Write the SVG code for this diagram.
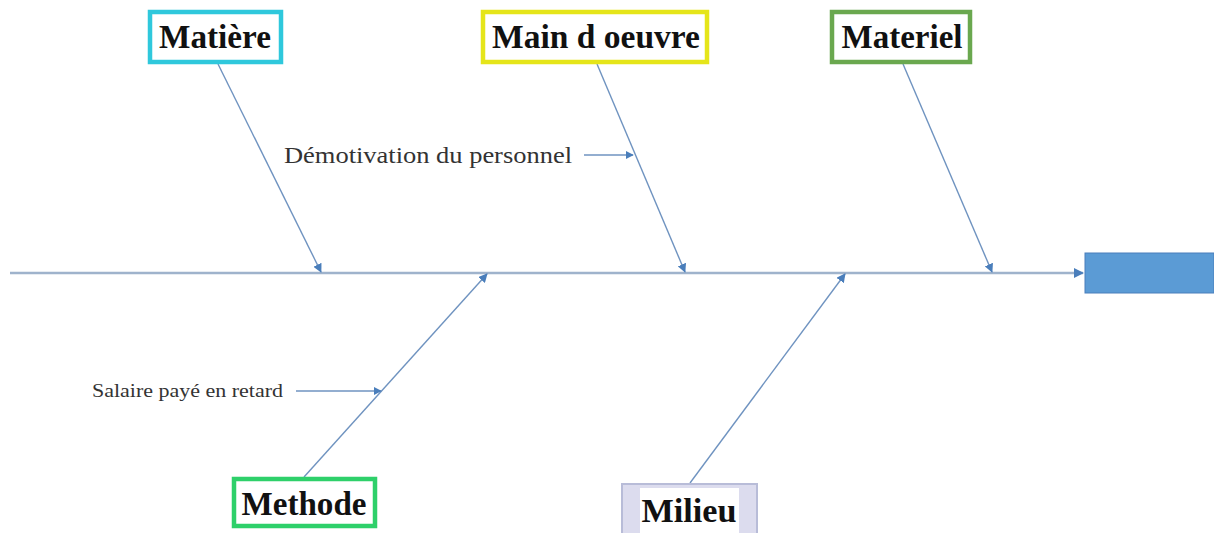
<svg xmlns="http://www.w3.org/2000/svg" width="1214" height="533" viewBox="0 0 1214 533">
<style>
.lbl{font-family:"Liberation Serif","Times New Roman",serif;font-weight:bold;font-size:33px;fill:#111;text-anchor:middle}
.note{font-family:"Liberation Serif","Times New Roman",serif;fill:#333}
.bone{stroke:#6f93c0;stroke-width:1.4;fill:none;marker-end:url(#ah)}
.small{stroke:#6f93c0;stroke-width:1.3;fill:none;marker-end:url(#ahs)}
.box{fill:#fff;stroke-width:4.5}
</style>
<defs>
<marker id="ah" viewBox="0 0 10 10" refX="9" refY="5" markerWidth="9" markerHeight="9" markerUnits="userSpaceOnUse" orient="auto"><path d="M0,0 L10,5 L0,10 z" fill="#4a7ebb"/></marker>
<marker id="ahs" viewBox="0 0 10 10" refX="9" refY="5" markerWidth="8" markerHeight="8" markerUnits="userSpaceOnUse" orient="auto"><path d="M0,0 L10,5 L0,10 z" fill="#4a7ebb"/></marker>
<marker id="ahm" viewBox="0 0 10 10" refX="9" refY="5" markerWidth="10" markerHeight="10" markerUnits="userSpaceOnUse" orient="auto"><path d="M0,0 L10,5 L0,10 z" fill="#4a7ebb"/></marker>
</defs>
<rect width="1214" height="533" fill="#fff"/>
<g id="connectors">
<line x1="10" y1="273" x2="1083" y2="273" stroke="#9fb3cc" stroke-width="2.5" marker-end="url(#ahm)"/>
<line class="bone" x1="218" y1="64" x2="321" y2="272"/>
<line class="bone" x1="597" y1="64" x2="685" y2="272"/>
<line class="bone" x1="903" y1="64" x2="992" y2="272"/>
<line class="bone" x1="304" y1="477" x2="487" y2="274"/>
<line class="bone" x1="690" y1="483" x2="845" y2="274"/>
<line class="small" x1="584" y1="155" x2="633" y2="155"/>
<line class="small" x1="296" y1="391" x2="381" y2="391"/>
</g>
<g id="effect"><rect x="1085" y="253" width="129" height="40" fill="#5b9bd5" stroke="#4a7ebb" stroke-width="1"/></g>
<g id="matiere"><rect class="box" x="150" y="12" width="131" height="50" stroke="#2fc8dc"/><text class="lbl" x="215" y="48" textLength="112" lengthAdjust="spacingAndGlyphs">Matière</text></g>
<g id="main-oeuvre"><rect class="box" x="483" y="12" width="224" height="50" stroke="#e5e51a"/><text class="lbl" x="596" y="48" textLength="208" lengthAdjust="spacingAndGlyphs">Main d oeuvre</text></g>
<g id="materiel"><rect class="box" x="832" y="12" width="138" height="50" stroke="#6aa84f"/><text class="lbl" x="902" y="48" textLength="121" lengthAdjust="spacingAndGlyphs">Materiel</text></g>
<g id="methode"><rect class="box" x="234" y="479" width="141" height="47" stroke="#2ed06a"/><text class="lbl" x="304" y="515" textLength="125" lengthAdjust="spacingAndGlyphs">Methode</text></g>
<g id="milieu"><rect x="622" y="484" width="135" height="60" fill="#dcdcee" stroke="#b8bcd8" stroke-width="2"/><rect x="640" y="488" width="99" height="50" fill="#fff"/><text class="lbl" x="689" y="522" textLength="95" lengthAdjust="spacingAndGlyphs">Milieu</text></g>
<g id="cause1"><text class="note" x="284" y="163" font-size="24" textLength="288" lengthAdjust="spacingAndGlyphs">Démotivation du personnel</text></g>
<g id="cause2"><text class="note" x="92" y="397" font-size="19" textLength="191" lengthAdjust="spacingAndGlyphs">Salaire payé en retard</text></g>
</svg>
